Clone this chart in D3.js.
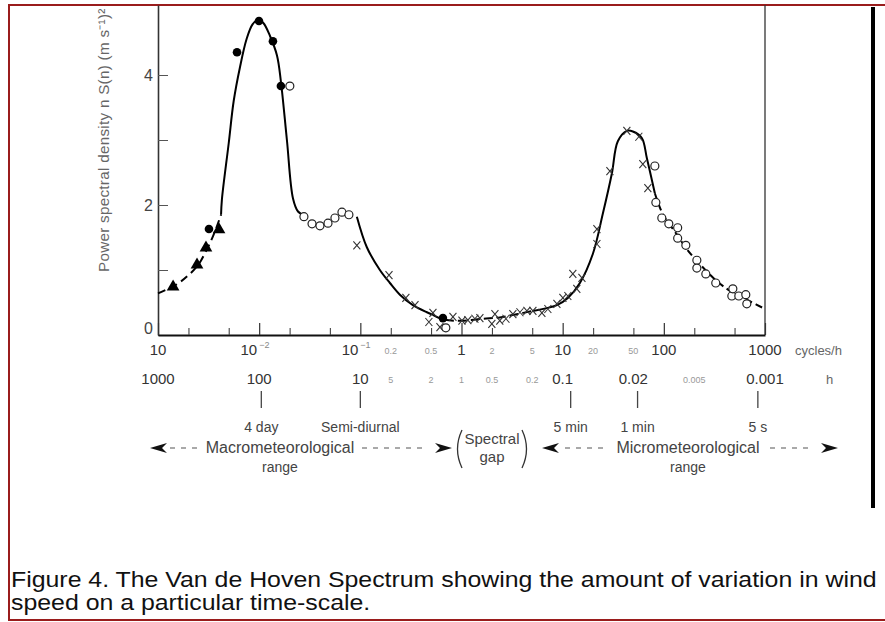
<!DOCTYPE html>
<html><head><meta charset="utf-8">
<script src="https://cdn.jsdelivr.net/npm/d3@7/dist/d3.min.js"></script>
<style>
html,body{margin:0;padding:0;background:#fff;overflow:hidden;}
svg{display:block;}
text{font-family:"Liberation Sans",Arial,Helvetica,sans-serif;}
</style></head><body>
<svg id="chart" width="885" height="622"></svg>
<script>
// ---------------- DATA (frequency in cycles/h, value n S(n)) ----------------
const triangles   = [[0.00141,0.74],[0.00243,1.08],[0.00298,1.34],[0.00401,1.62]];
const filledDots  = [[0.00319,1.63],[0.00604,4.35],[0.00996,4.83],[0.01368,4.52],[0.0164,3.83],[0.655,0.26]];
const openCircles = [[0.0201,3.83],[0.0277,1.82],[0.0333,1.71],[0.0399,1.68],[0.0479,1.72],[0.0561,1.80],
  [0.0658,1.89],[0.0771,1.85],[0.70,0.11],[81.5,2.60],[83.4,2.04],[95.5,1.80],[112,1.71],[137,1.65],[137,1.49],
  [165,1.38],[212,1.15],[212,1.03],[260,0.94],[326,0.80],[470,0.60],[481,0.71],[551,0.60],[646,0.62],[661,0.48]];
const crosses     = [[0.0924,1.38],[0.192,0.92],[0.282,0.57],[0.347,0.46],[0.476,0.20],[0.522,0.34],[0.612,0.12],
  [0.823,0.28],[1.01,0.22],[1.156,0.23],[1.356,0.25],[1.52,0.26],[1.995,0.17],[2.14,0.32],[2.39,0.22],[2.75,0.25],
  [3.22,0.32],[3.78,0.35],[4.43,0.37],[5.08,0.37],[6.23,0.34],[7.14,0.40],[8.77,0.48],[10.05,0.57],[11.25,0.60],
  [12.6,0.94],[13.8,0.71],[15.5,0.88],[21.8,1.40],[21.8,1.63],[29.3,2.52],[43.1,3.14],[56.6,3.05],[62.0,2.63],[69.5,2.26]];

// fitted curve, split into drawn pieces
const curveMacroDashed = [[0.001,0.64],[0.0015,0.77],[0.002,0.92],[0.0025,1.08],[0.003,1.30],[0.0035,1.52],[0.0042,1.85]];
const curveMacroPeak   = [[0.0042,1.85],[0.00428,2.08],[0.0050,2.95],[0.0056,3.6],[0.00646,4.12],[0.0075,4.55],[0.0086,4.78],
  [0.00975,4.85],[0.011,4.80],[0.0128,4.60],[0.015,4.30],[0.0164,3.90],[0.0188,3.0],[0.0216,2.10],[0.0242,1.90],[0.0277,1.84]];
const curveDecline     = [[0.0924,1.82],[0.116,1.35],[0.156,1.0],[0.196,0.80],[0.246,0.62],[0.331,0.46],[0.455,0.35],[0.522,0.31]];
const curveGap         = [[0.522,0.31],[0.655,0.24],[1.0,0.22],[1.63,0.25],[2.39,0.27],[3.5,0.32],[5.08,0.37]];
const curveMicroPeak   = [[5.08,0.37],[8.77,0.46],[11.25,0.57],[14.8,0.80],[19.9,1.25],[24.9,1.86],[30.6,2.48],[35.1,2.98],
  [43.1,3.14],[49.4,3.13],[60.6,3.03],[68.0,2.72],[81.5,2.18]];
const curveMicroTail   = [[81.5,2.18],[97.7,1.86],[134,1.55],[169,1.32],[227,1.09],[334,0.83],[481,0.65],[708,0.52],[1000,0.40]];

// axis ticks and labels
const yTickValues   = [0,1,2,3,4];
const yTickLabels   = ["0","","2","","4"];
const xMajorTicks   = [0.001,0.01,0.1,1,10,100,1000];
const xMinorTicks   = [0.002,0.005,0.02,0.05,0.2,0.5,2,5,20,50,200,500];
const freqMainVals  = [0.001,0.01,0.1,1,10,100,1000];
const freqMainText  = ["10","10","10","1","10","100","1000"];
const freqMainSup   = ["","−2","−1","","","",""];
const freqSmallVals = [0.2,0.5,2,5,20,50];
const freqSmallText = ["0.2","0.5","2","5","20","50"];
const hourMainVals  = [1000,100,10,0.1,0.02,0.001];
const hourMainText  = ["1000","100","10","0.1","0.02","0.001"];
const hourSmallVals = [5,2,1,0.5,0.2,0.005];
const hourSmallText = ["5","2","1","0.5","0.2","0.005"];
const markerFreqs   = [0.0105,0.1,12,55,850];
const markerNames   = ["4 day","Semi-diurnal","5 min","1 min","5 s"];
const rangeNames    = ["Macrometeorological","Micrometeorological"];
const gapWords      = ["Spectral","gap"];
const yLabel        = "Power spectral density n S(n) (m s⁻¹)²";
const captionLines  = ["Figure 4. The Van de Hoven Spectrum showing the amount of variation in wind",
                       "speed on a particular time-scale."];

// ---------------- DRAWING ----------------
const svg = d3.select("#chart");
const x = d3.scaleLog().domain([1e-3,1e3]).range([158,765]);
const y = d3.scaleLinear().domain([0,5.077]).range([335,5]);

// outer frame
svg.append("rect").attr("x",9).attr("y",5).attr("width",890).attr("height",615)
  .attr("fill","none").attr("stroke","#9a1c1c").attr("stroke-width",2);
svg.append("line").attr("x1",873).attr("x2",873).attr("y1",7).attr("y2",508)
  .attr("stroke","#000").attr("stroke-width",4);

// y axis label (fits between the axis bottom and the frame top)
svg.append("text")
  .attr("transform","translate(109,272) rotate(-90)").attr("font-size",15.2).attr("fill","#666")
  .attr("letter-spacing",0.3).text(yLabel);

// y axis
const yAxis = svg.append("g").attr("transform","translate(158,0)")
  .call(d3.axisLeft(y).tickValues(yTickValues).tickSize(-10).tickSizeOuter(0).tickPadding(5)
        .tickFormat((d,i)=>yTickLabels[i]));
yAxis.select(".domain").attr("stroke","#333").attr("stroke-width",1.6);
yAxis.selectAll(".tick line").attr("stroke","#555");
yAxis.selectAll(".tick text").attr("font-size",16).attr("fill","#444")
  .attr("font-family","Liberation Sans, Arial, sans-serif").attr("dy",(d)=> d===0? "-0.1em":"0.32em");

// right frame line of plot
svg.append("line").attr("x1",x(1000)).attr("x2",x(1000)).attr("y1",5).attr("y2",y(0))
  .attr("stroke","#333").attr("stroke-width",1.3);

// x axis (ticks pointing up)
const xMajor = svg.append("g").attr("transform",`translate(0,${y(0)})`)
  .call(d3.axisTop(x).tickValues(xMajorTicks).tickSize(12).tickSizeOuter(0).tickFormat(""));
xMajor.select(".domain").attr("stroke","#111").attr("stroke-width",2);
xMajor.selectAll(".tick line").attr("stroke","#333").attr("stroke-width",1.2);
const xMinor = svg.append("g").attr("transform",`translate(0,${y(0)})`)
  .call(d3.axisTop(x).tickValues(xMinorTicks).tickSize(7).tickSizeOuter(0).tickFormat(""));
xMinor.select(".domain").remove();
xMinor.selectAll(".tick line").attr("stroke","#444").attr("stroke-width",1.1);

// frequency label row
const row1 = 355, row2 = 384;
freqMainVals.forEach((f,i)=>{
  const t = svg.append("text").attr("y",row1).attr("font-size",15).attr("fill","#333");
  if (freqMainSup[i]) {
    t.attr("x",x(f)-2).attr("text-anchor","end").text(freqMainText[i]);
    svg.append("text").attr("x",x(f)).attr("y",row1-7).attr("font-size",9).attr("fill","#888").text(freqMainSup[i]);
  } else {
    t.attr("x",x(f)).attr("text-anchor","middle").text(freqMainText[i]);
  }
});
freqSmallVals.forEach((f,i)=>svg.append("text").attr("x",x(f)).attr("y",row1-1).attr("text-anchor","middle")
  .attr("font-size",9).attr("fill","#999").text(freqSmallText[i]));
svg.append("text").attr("x",795).attr("y",row1).attr("font-size",13).attr("fill","#666").text("cycles/h");

// period label row
hourMainVals.forEach((h,i)=>svg.append("text").attr("x",x(1/h)).attr("y",row2).attr("text-anchor","middle")
  .attr("font-size",15).attr("fill","#333").text(hourMainText[i]));
hourSmallVals.forEach((h,i)=>svg.append("text").attr("x",x(1/h)).attr("y",row2-1).attr("text-anchor","middle")
  .attr("font-size",9).attr("fill","#999").text(hourSmallText[i]));
svg.append("text").attr("x",826).attr("y",row2).attr("font-size",13).attr("fill","#666").text("h");

// time-scale markers
markerFreqs.forEach((f,i)=>{
  svg.append("line").attr("x1",x(f)).attr("x2",x(f)).attr("y1",391).attr("y2",408)
    .attr("stroke","#444").attr("stroke-width",1.3);
  svg.append("text").attr("x",x(f)).attr("y",432).attr("text-anchor","middle")
    .attr("font-size",14).attr("fill","#444").text(markerNames[i]);
});

// range annotations
function arrowHead(tx,ty,dir){
  const p = d3.path();
  p.moveTo(tx,ty); p.lineTo(tx-dir*17,ty-5); p.lineTo(tx-dir*12,ty); p.lineTo(tx-dir*17,ty+5); p.closePath();
  svg.append("path").attr("d",p.toString()).attr("fill","#111");
}
function dashes(x1,x2,yy){
  svg.append("line").attr("x1",x1).attr("x2",x2).attr("y1",yy).attr("y2",yy)
    .attr("stroke","#555").attr("stroke-width",1.2).attr("stroke-dasharray","5,6");
}
const ry = 448;
arrowHead(150,ry,-1); dashes(170,200,ry);
svg.append("text").attr("x",280).attr("y",ry+5).attr("text-anchor","middle").attr("font-size",16).attr("fill","#444").text(rangeNames[0]);
svg.append("text").attr("x",280).attr("y",ry+24).attr("text-anchor","middle").attr("font-size",14).attr("fill","#444").text("range");
dashes(362,428,ry); arrowHead(452,ry,1);
function paren(px,dir){
  svg.append("path").attr("d",`M${px},430 Q${px-dir*9},449 ${px},468`).attr("fill","none")
    .attr("stroke","#333").attr("stroke-width",1.3);
}
paren(462,1); paren(522,-1);
svg.append("text").attr("x",492).attr("y",444).attr("text-anchor","middle").attr("font-size",15).attr("fill","#444").text(gapWords[0]);
svg.append("text").attr("x",492).attr("y",462).attr("text-anchor","middle").attr("font-size",15).attr("fill","#444").text(gapWords[1]);
arrowHead(542,ry,-1); dashes(565,605,ry);
svg.append("text").attr("x",688).attr("y",ry+5).attr("text-anchor","middle").attr("font-size",16).attr("fill","#444").text(rangeNames[1]);
svg.append("text").attr("x",688).attr("y",ry+24).attr("text-anchor","middle").attr("font-size",14).attr("fill","#444").text("range");
dashes(770,812,ry); arrowHead(838,ry,1);

// curve
const line = d3.line().x(d=>x(d[0])).y(d=>y(d[1])).curve(d3.curveCatmullRom.alpha(0.5));
const plot = svg.append("g");
function drawCurve(data,dash){
  plot.append("path").attr("d",line(data)).attr("fill","none").attr("stroke","#000").attr("stroke-width",2)
    .attr("stroke-dasharray",dash||null);
}
drawCurve(curveMacroDashed,"8,5");
drawCurve(curveMacroPeak);
drawCurve(curveDecline);
drawCurve(curveGap,"9,4");
drawCurve(curveMicroPeak);
drawCurve(curveMicroTail,"7,4");

// markers
plot.selectAll(".tri").data(triangles).join("path").attr("class","tri")
  .attr("transform",d=>`translate(${x(d[0])},${y(d[1])})`)
  .attr("d",d3.symbol(d3.symbolTriangle,70)).attr("fill","#000");
plot.selectAll(".dot").data(filledDots).join("circle").attr("class","dot")
  .attr("cx",d=>x(d[0])).attr("cy",d=>y(d[1])).attr("r",4.3).attr("fill","#000");
plot.selectAll(".cross").data(crosses).join("path").attr("class","cross")
  .attr("transform",d=>`translate(${x(d[0])},${y(d[1])})`)
  .attr("d","M-3.5,-4L3.5,4M3.5,-4L-3.5,4").attr("stroke","#333").attr("stroke-width",1.1).attr("fill","none");
plot.selectAll(".oc").data(openCircles).join("circle").attr("class","oc")
  .attr("cx",d=>x(d[0])).attr("cy",d=>y(d[1])).attr("r",4).attr("fill","#fff")
  .attr("stroke","#222").attr("stroke-width",1.2);

// caption
const cap = svg.append("g");
const c1 = cap.append("text").attr("x",0).attr("y",0).attr("font-size",22).attr("fill","#111").text(captionLines[0]);
const c2 = cap.append("text").attr("x",0).attr("y",23).attr("font-size",22).attr("fill","#111").text(captionLines[1]);
const w1 = c1.node().getComputedTextLength();
const sx = 866 / w1;
cap.attr("transform",`translate(11,587) scale(${sx},1)`);
</script>
</body></html>
